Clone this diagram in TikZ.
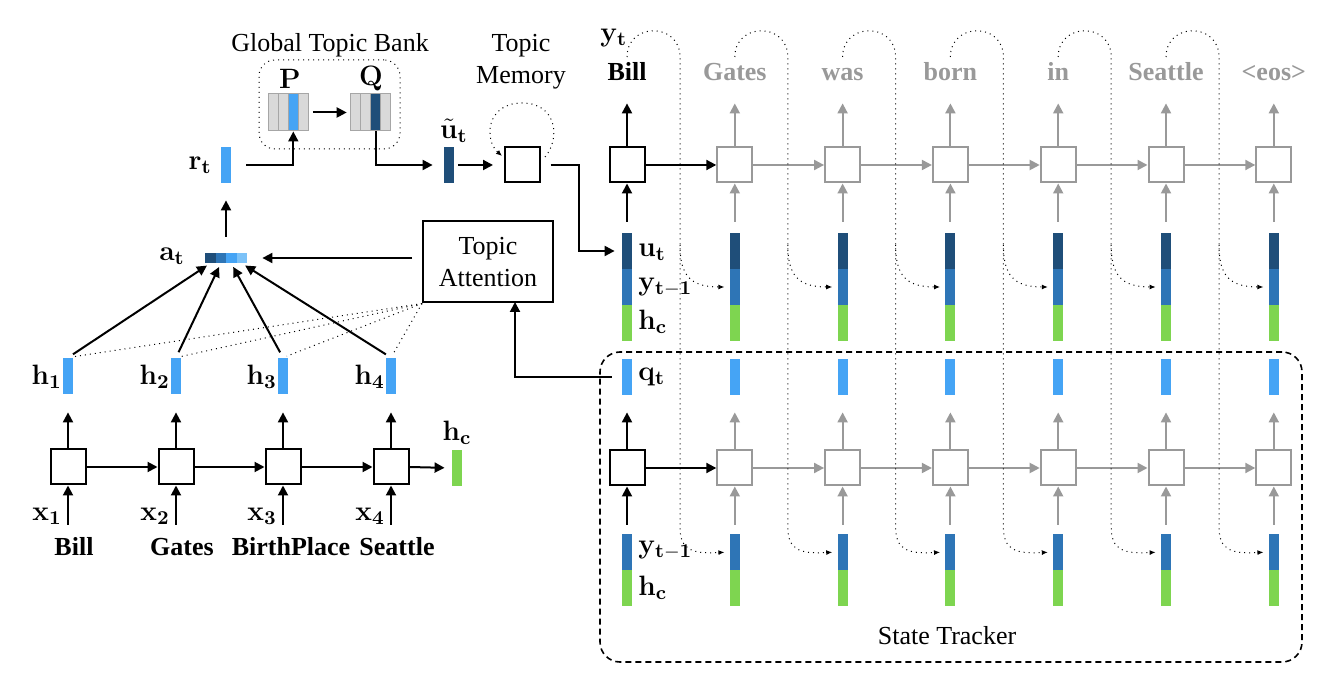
\RequirePackage{fix-cm}
\documentclass[tikz,border=0pt]{standalone}
\usepackage[no-math]{fontspec}
\setmainfont{Liberation Serif}
\usetikzlibrary{arrows.meta,calc}

\definecolor{navy}{HTML}{1F4E79}
\definecolor{midblue}{HTML}{2E75B6}
\definecolor{skyblue}{HTML}{45A4F5}
\definecolor{paleblue}{HTML}{7CC2F8}
\definecolor{leaf}{HTML}{7ED550}
\definecolor{cellgray}{HTML}{D9D9D9}
\definecolor{ghost}{HTML}{999999}

\begin{document}
\begin{tikzpicture}[
    x=0.5pt, y=-0.5pt,
    font=\fontsize{13}{16}\selectfont,
    rnn/.style={draw, line width=1pt, minimum width=17.5pt, minimum height=17.5pt, inner sep=0pt},
    bar/.style={inner sep=0pt, minimum width=5pt, minimum height=18pt},
    mcol/.style={draw=gray!70, line width=0.5pt, inner sep=0pt, minimum width=5pt, minimum height=18.5pt},
    lbl/.style={font=\fontsize{14}{16}\selectfont, inner sep=0pt},
    arr/.style={-{Triangle[length=5pt,width=5pt]}, line width=1pt},
    fb/.style={dotted, line width=0.5pt, -{Latex[length=3pt,width=2.5pt]}},
    word/.style={font=\fontsize{13}{16}\selectfont\bfseries, anchor=base, inner sep=0pt, text depth=0pt}
]
  \useasboundingbox (0,0) rectangle (1342,688);

  % Encoder
  \foreach \i/\x in {1/68,2/176,3/283,4/391}{
    \node[rnn] (e\i) at (\x,467) {};
    \node[bar, fill=skyblue] (h\i) at (\x,376) {};
    \node[lbl, anchor=east] (hl\i) at (\x-6,377) {$\mathbf{h_\i}$};
    \node[lbl, anchor=east] (xl\i) at (\x-6,516) {$\mathbf{x_\i}$};
    \coordinate (in\i) at (\x,525);
    \draw[arr] (in\i) -- (e\i.south);
    \draw[arr, shorten >=9pt] (e\i.north) -- (h\i.south);
  }
  \foreach \w/\x/\n in {Bill/74/1, Gates/182/2, BirthPlace/291/3, Seattle/397/4}
    \node[word] (ew\n) at (\x,556) {\w};
  \foreach \i [count=\j from 2] in {1,2,3}
    \draw[arr] (e\i.east) -- (e\j.west);
  \node[bar, fill=leaf] (hce) at (457,468) {};
  \node[lbl] (hcel) at (457,433) {$\mathbf{h_c}$};
  \draw[arr, shorten >=3.5pt] (e4.east) -- (hce.west);

  % Topic attention
  \foreach \i/\c in {1/navy,2/midblue,3/skyblue,4/paleblue}
    \node[inner sep=0pt, minimum width=5.25pt, minimum height=5pt, fill=\c] (a\i) at ({199.75+10.5*\i},258) {};
  \node[lbl, anchor=east] (al) at (185,256) {$\mathbf{a_t}$};
  \foreach \i in {1,...,4}
    \draw[arr, shorten <=3pt, shorten >=2pt] (h\i.north) -- (a\i.south);
  \node[draw, line width=1pt, minimum width=65pt, minimum height=40.5pt, align=center, inner sep=0pt] (ta) at (488,262) {Topic\\Attention};
  \foreach \i in {1,...,4}
    \draw[dotted, line width=0.5pt, shorten >=2pt] (ta.south west) -- (h\i.north);
  \draw[arr, shorten <=5pt, shorten >=7.5pt] (ta.west |- a4.east) -- (a4.east);

  % Topic bank
  \node[bar, fill=skyblue] (rt) at (226,165) {};
  \node[lbl, anchor=east] (rl) at (212,165) {$\mathbf{r_t}$};
  \draw[arr, shorten <=8pt, shorten >=8.5pt] (rt |- a2.north) -- (rt.south);
  \node[draw, dotted, line width=0.5pt, rounded corners=8pt, minimum width=70.5pt, minimum height=44.5pt] (gtb) at (329.5,104.5) {};
  \node (gtbl) at (330,45) {Global Topic Bank};
  \foreach \i/\c in {1/cellgray,2/cellgray,3/skyblue,4/cellgray}
    \node[mcol, fill=\c] (p\i) at ({263+10.1*\i},112.5) {};
  \foreach \i/\c in {1/cellgray,2/cellgray,3/navy,4/cellgray}
    \node[mcol, fill=\c] (q\i) at ({345+10.2*\i},112.5) {};
  \node[lbl] (pl) at (290,79) {$\mathbf{P}$};
  \node[lbl] (ql) at (371,79) {$\mathbf{Q}$};
  \draw[arr, shorten <=2pt, shorten >=1.5pt] (p4.east) -- (q1.west);
  \draw[arr, shorten <=7.5pt] (rt.east) -| (p3.south);

  % Topic memory
  \node[bar, fill=navy] (ut) at (449,165) {};
  \node[lbl] (utl) at (454,131) {$\tilde{\mathbf{u}}_{\mathbf{t}}$};
  \draw[arr, shorten >=5.5pt] (q3.south) |- (ut.west);
  \node[rnn] (mem) at (522,165) {};
  \node[align=center] (meml) at (521,62) {Topic\\Memory};
  \draw[arr, shorten <=2pt, shorten >=5.25pt] (ut.east) -- (mem.west);
  \draw[fb] (545,157) .. controls (560,140) and (558,103) .. (522,103)
            .. controls (486,103) and (484,140) .. (502,156);

  % Decoder
  \foreach \i/\w/\ink in {0/Bill/black, 1/Gates/ghost, 2/was/ghost, 3/born/ghost,
                          4/in/ghost, 5/Seattle/ghost, 6/{<eos>}/ghost}{
    \pgfmathsetmacro{\x}{627+107.8*\i}
    \node[rnn, draw=\ink] (dt\i) at (\x,165) {};
    \node[word, text=\ink] (w\i) at (\x,81) {\w};
    \draw[arr, color=\ink, shorten >=11pt] (dt\i.north) -- (w\i.south);
    \node[bar, fill=navy] (u\i) at (\x,251) {};
    \node[bar, fill=midblue] (yp\i) at (\x,287) {};
    \node[bar, fill=leaf] (hc\i) at (\x,323) {};
    \draw[arr, color=\ink, shorten <=5.5pt] (u\i.north) -- (dt\i.south);
    \node[bar, fill=skyblue] (q\i) at (\x,377) {};
    \node[rnn, draw=\ink] (ds\i) at (\x,468) {};
    \draw[arr, color=\ink, shorten >=8.5pt] (ds\i.north) -- (q\i.south);
    \node[bar, fill=midblue] (yb\i) at (\x,552) {};
    \node[bar, fill=leaf] (hb\i) at (\x,588) {};
    \draw[arr, color=\ink, shorten <=4.5pt] (yb\i.north) -- (ds\i.south);
  }
  \foreach \i/\ink [count=\j] in {0/black,1/ghost,2/ghost,3/ghost,4/ghost,5/ghost}{
    \draw[arr, color=\ink] (dt\i.east) -- (dt\j.west);
    \draw[arr, color=\ink] (ds\i.east) -- (ds\j.west);
    \pgfmathsetmacro{\x}{627+107.8*\i}
    \pgfmathsetmacro{\vx}{680+107.8*\i}
    \draw[fb, shorten >=2.5pt] (\x,57) .. controls (\x,22) and (\vx,22) .. (\vx,57)
         -- (\vx,527) .. controls (\vx,550) and (\vx+12,554) .. (yb\j.west);
    \draw[fb, shorten >=2.5pt] (\vx,245) .. controls (\vx,275) and (\vx+10,287) .. (yp\j.west);
  }
  \node[lbl, anchor=west] (ytl) at (600,38) {$\mathbf{y_t}$};
  \node[lbl, anchor=west] (ul) at (638,252) {$\mathbf{u_t}$};
  \node[lbl, anchor=west] (ypl) at (638,287) {$\mathbf{y_{t-1}}$};
  \node[lbl, anchor=west] (hcl) at (638,322) {$\mathbf{h_c}$};
  \node[lbl, anchor=west] (qtl) at (638,377) {$\mathbf{q_t}$};
  \node[lbl, anchor=west] (ybl) at (638,550) {$\mathbf{y_{t-1}}$};
  \node[lbl, anchor=west] (hbl) at (638,588) {$\mathbf{h_c}$};
  \coordinate (mbend) at (579,165);
  \draw[arr, shorten <=5pt, shorten >=3.5pt] (mem.east) -- (mbend) |- (u0.west);

  % State tracker
  \node[draw, densely dashed, line width=0.8pt, rounded corners=10pt, minimum width=351pt, minimum height=155pt] (st) at (951,507) {};
  \node (stl) at (947,636) {State Tracker};
  \coordinate (tain) at (515,302);
  \draw[arr, shorten <=5pt] (q0.west) -| (tain);
\end{tikzpicture}
\end{document}
